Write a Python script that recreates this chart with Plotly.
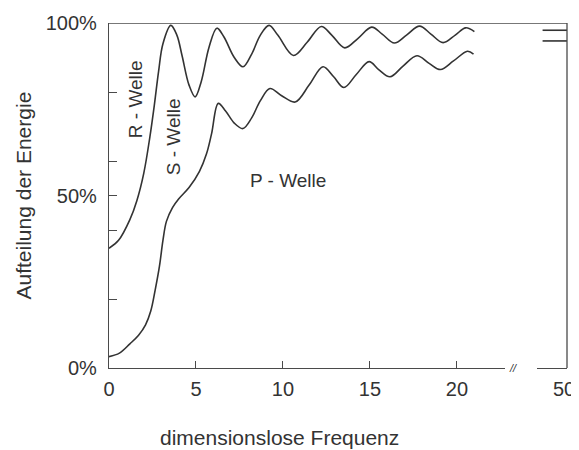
import plotly.graph_objects as go

# Upper boundary curve (between R-Welle and S-Welle), percent
rs_x = [0, 0.55, 1.2, 1.6, 2.0, 2.35, 2.6, 2.85, 3.1, 3.55, 3.9, 4.2, 4.6, 4.95, 5.3, 5.75, 6.2,
        6.6, 7.2, 7.7, 8.2, 8.7, 9.2, 9.7, 10.6, 11.4, 12.2, 12.8, 13.55, 14.3, 15.1, 15.7, 16.4,
        17.1, 17.85, 18.5, 19.2, 19.9, 20.5, 21.0]
rs_y = [34.7, 37, 43, 48.5, 56.5, 67, 76, 86, 94, 99.3, 96.5, 90.5, 82, 78.6, 83, 93, 98.5,
        96, 90, 87.3, 91, 96.5, 99.3, 96.5, 90.6, 94.5, 99, 96.5, 92.8, 95.5, 98.8, 96.8, 94.2,
        96.5, 99.1, 96.8, 94.3, 96.5, 98.6, 97.5]

# Lower boundary curve (between S-Welle and P-Welle), percent
sp_x = [0, 0.6, 1.2, 1.7, 2.1, 2.4, 2.65, 2.9, 3.1, 3.3, 3.65, 4.0, 4.6, 5.2, 5.6, 5.9, 6.28,
        6.7, 7.2, 7.7, 8.2, 8.7, 9.25, 9.9, 10.7, 11.5, 12.3, 12.9, 13.5, 14.2, 14.95, 15.5,
        16.15, 16.9, 17.7, 18.4, 19.05, 19.8, 20.6, 20.95]
sp_y = [3.3, 4.3, 7, 9.5, 12.5, 16.5, 22.5, 29.5, 37, 42.5, 46.5, 49, 52.3, 57, 62, 68, 76.7,
        74.5, 71, 69.4, 72.5, 77.5, 81, 79, 77.1, 82, 87.3, 84.5, 81.3, 85, 88.8, 86.5,
        84.4, 87.5, 90.5, 88.3, 86.5, 89, 91.8, 91.0]

# Limit values at frequency 50
limit_x = [48.6, 50]
rs_limit = 97.9
sp_limit = 94.8

y_tickvals = [0, 50, 100]
y_ticktext = ["0%", "50%", "100%"]
y_minor = [20, 40, 60, 80]
x_tickvals = [0, 5, 10, 15, 20]
x2_tickvals = [50]

line_col = "#333333"
axis_col = "#4a4a4a"
font_family = "Liberation Sans, Arial, Helvetica, sans-serif"

fig = go.Figure()
fig.add_trace(go.Scatter(x=rs_x, y=rs_y, mode="lines", line=dict(color=line_col, width=1.6, shape="spline", smoothing=1.0),
                         xaxis="x", yaxis="y", hoverinfo="skip"))
fig.add_trace(go.Scatter(x=sp_x, y=sp_y, mode="lines", line=dict(color=line_col, width=1.6, shape="spline", smoothing=1.0),
                         xaxis="x", yaxis="y", hoverinfo="skip"))
fig.add_trace(go.Scatter(x=limit_x, y=[rs_limit] * len(limit_x), mode="lines", line=dict(color=line_col, width=1.6),
                         xaxis="x2", yaxis="y", hoverinfo="skip"))
fig.add_trace(go.Scatter(x=limit_x, y=[sp_limit] * len(limit_x), mode="lines", line=dict(color=line_col, width=1.6),
                         xaxis="x2", yaxis="y", hoverinfo="skip"))

dom1_end = (505 - 109) / 458
dom2_start = (537 - 109) / 458

fig.update_layout(
    width=571, height=442,
    margin=dict(l=101, r=12, t=15, b=82, autoexpand=False),
    paper_bgcolor="white", plot_bgcolor="white",
    showlegend=False,
    font=dict(family=font_family, size=20, color="#333333"),
    xaxis=dict(domain=[0, dom1_end], range=[0, 22.76], tickvals=x_tickvals,
               ticks="inside", ticklen=7, tickcolor=axis_col, showline=True, linecolor=axis_col, linewidth=1.3,
               showgrid=False, zeroline=False, anchor="y", automargin=False, ticklabelstandoff=3,
               tickfont=dict(size=20)),
    xaxis2=dict(domain=[dom2_start, 1], range=[48.28, 50], tickvals=x2_tickvals,
                ticks="", showline=True, linecolor=axis_col, linewidth=1.3, automargin=False,
                showgrid=False, zeroline=False, anchor="y", tickfont=dict(size=20), ticklabelstandoff=3,
                ticklabelshift=-3),
    yaxis=dict(range=[0, 100], tickvals=y_tickvals, ticktext=y_ticktext,
               ticks="inside", ticklen=8, tickcolor=axis_col,
               minor=dict(tickmode="array", tickvals=y_minor, ticks="inside", ticklen=8, tickcolor=axis_col),
               showline=True, linecolor=axis_col, linewidth=1.3, showgrid=False, zeroline=False,
               automargin=False, ticklabelstandoff=7, tickfont=dict(size=20)),
    shapes=[
        dict(type="line", xref="paper", yref="y", x0=0, x1=1, y0=100, y1=100, line=dict(color=axis_col, width=1.3)),
        dict(type="line", xref="paper", yref="y", x0=1, x1=1, y0=0, y1=100, line=dict(color=axis_col, width=1.3)),
    ],
    annotations=[
        dict(text="R - Welle", x=1.49, y=77.9, xref="x", yref="y", showarrow=False, textangle=-90, font=dict(size=19)),
        dict(text="S - Welle", x=3.68, y=66.9, xref="x", yref="y", showarrow=False, textangle=-90, font=dict(size=19)),
        dict(text="P - Welle", x=10.29, y=54.4, xref="x", yref="y", showarrow=False, font=dict(size=19)),
        dict(text="<i>//</i>", x=(519 - 109) / 458, y=0, xref="paper", yref="y", showarrow=False, font=dict(size=11)),
        dict(text="dimensionslose Frequenz", x=(279 - 109) / 458, y=(368 - 437) / 345, xref="paper", yref="paper",
             xanchor="center", yanchor="middle", showarrow=False, font=dict(size=21)),
        dict(text="Aufteilung der Energie", x=(23 - 109) / 458, y=0.5, xref="paper", yref="paper",
             xanchor="center", yanchor="middle", showarrow=False, textangle=-90, font=dict(size=21)),
    ],
)

fig.write_html("out.html")
